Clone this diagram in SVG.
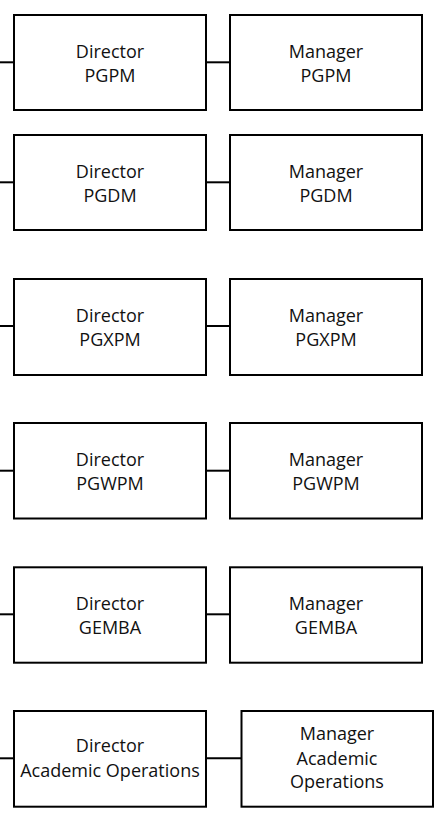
<svg xmlns="http://www.w3.org/2000/svg" width="434" height="817" viewBox="0 0 434 817">
<style>
.box{fill:#fff;stroke:#000;stroke-width:2}
.conn line{stroke:#000;stroke-width:2}
text{font-family:"Open Sans","Liberation Sans",sans-serif;font-size:18px;fill:#111;text-anchor:middle}
</style>
<rect width="434" height="817" fill="#fff"/>
<g id="connectors" class="conn">
<line x1="0" y1="62.3" x2="14" y2="62.3"/><line x1="206" y1="62.3" x2="230" y2="62.3"/>
<line x1="0" y1="182.3" x2="14" y2="182.3"/><line x1="206" y1="182.3" x2="230" y2="182.3"/>
<line x1="0" y1="326" x2="14" y2="326"/><line x1="206" y1="326" x2="230" y2="326"/>
<line x1="0" y1="470.7" x2="14" y2="470.7"/><line x1="206" y1="470.7" x2="230" y2="470.7"/>
<line x1="0" y1="614.3" x2="14" y2="614.3"/><line x1="206" y1="614.3" x2="230" y2="614.3"/>
<line x1="0" y1="758.3" x2="14" y2="758.3"/><line x1="206" y1="758.3" x2="241.5" y2="758.3"/>
</g>
<g id="dir-pgpm"><rect class="box" x="14" y="15" width="192" height="95"/><text x="110" y="57.7">Director</text><text x="110" y="81.7">PGPM</text></g>
<g id="mgr-pgpm"><rect class="box" x="230" y="15" width="192" height="95"/><text x="326" y="57.7">Manager</text><text x="326" y="81.7">PGPM</text></g>
<g id="dir-pgdm"><rect class="box" x="14" y="135" width="192" height="95"/><text x="110" y="177.7">Director</text><text x="110" y="201.7">PGDM</text></g>
<g id="mgr-pgdm"><rect class="box" x="230" y="135" width="192" height="95"/><text x="326" y="177.7">Manager</text><text x="326" y="201.7">PGDM</text></g>
<g id="dir-pgxpm"><rect class="box" x="14" y="279" width="192" height="96"/><text x="110" y="321.5">Director</text><text x="110" y="345.5">PGXPM</text></g>
<g id="mgr-pgxpm"><rect class="box" x="230" y="279" width="192" height="96"/><text x="326" y="321.5">Manager</text><text x="326" y="345.5">PGXPM</text></g>
<g id="dir-pgwpm"><rect class="box" x="14" y="423" width="192" height="95.5"/><text x="110" y="466">Director</text><text x="110" y="490">PGWPM</text></g>
<g id="mgr-pgwpm"><rect class="box" x="230" y="423" width="192" height="95.5"/><text x="326" y="466">Manager</text><text x="326" y="490">PGWPM</text></g>
<g id="dir-gemba"><rect class="box" x="14" y="567.3" width="192" height="95.4"/><text x="110" y="609.7">Director</text><text x="110" y="633.7">GEMBA</text></g>
<g id="mgr-gemba"><rect class="box" x="230" y="567.3" width="192" height="95.4"/><text x="326" y="609.7">Manager</text><text x="326" y="633.7">GEMBA</text></g>
<g id="dir-acad"><rect class="box" x="14" y="711" width="192" height="95.7"/><text x="110" y="752.3">Director</text><text x="110" y="776.7">Academic Operations</text></g>
<g id="mgr-acad"><rect class="box" x="241.5" y="711" width="191.5" height="95.7"/><text x="337" y="740">Manager</text><text x="337" y="764.5">Academic</text><text x="337" y="788">Operations</text></g>
</svg>
